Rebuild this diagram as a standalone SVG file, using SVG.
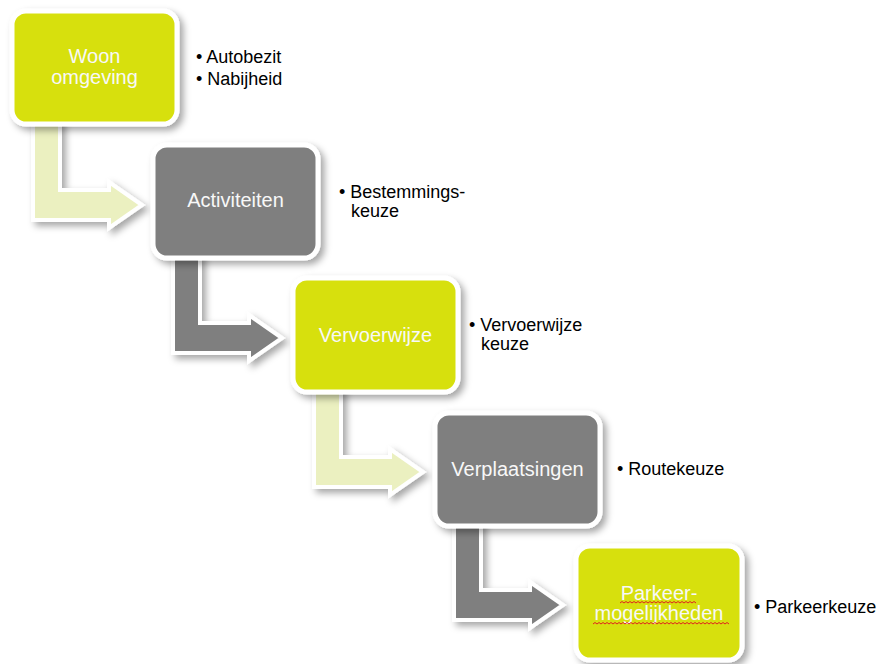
<svg xmlns="http://www.w3.org/2000/svg" xmlns:xlink="http://www.w3.org/1999/xlink" width="886" height="664" viewBox="0 0 886 664">
<defs>
<filter id="sh" x="-20%" y="-20%" width="150%" height="150%">
<feDropShadow dx="4" dy="4" stdDeviation="3.5" flood-color="#000" flood-opacity="0.35"/>
</filter>
<path id="arrow" d="M33,120 L60,120 L60,190 L109,190 L109,182 L142,205 L109,228 L109,220 L33,220 Z"/>
</defs>
<style>
.box{stroke:#fff;stroke-width:5;filter:url(#sh)}
.lime{fill:#D7E00F}
.grey{fill:#7F7F7F}
.arw{stroke:#fff;stroke-width:4;stroke-linejoin:miter;filter:url(#sh)}
.alight{fill:#EBF0C0}
.adark{fill:#7F7F7F}
.lbl{font-family:"Liberation Sans",Arial,sans-serif;font-size:20px;fill:#F8F8F8;text-anchor:middle}
.bul{font-family:"Liberation Sans",Arial,sans-serif;font-size:18px;fill:#000}
.sq{fill:none;stroke:#E02020;stroke-width:1}
</style>
<rect width="886" height="664" fill="#fff"/>
<g id="connectors">
<use xlink:href="#arrow" href="#arrow" class="arw alight"/>
<use xlink:href="#arrow" href="#arrow" class="arw adark" transform="translate(140,133)"/>
<use xlink:href="#arrow" href="#arrow" class="arw alight" transform="translate(281,267)"/>
<use xlink:href="#arrow" href="#arrow" class="arw adark" transform="translate(421,400)"/>
</g>
<g id="node1">
<rect class="box lime" x="12" y="11" width="165" height="113" rx="14"/>
<text class="lbl" x="94.5" y="63">Woon</text>
<text class="lbl" x="94.5" y="84">omgeving</text>
<text class="bul" x="196" y="63">• Autobezit</text>
<text class="bul" x="196" y="85">• Nabijheid</text>
</g>
<g id="node2">
<rect class="box grey" x="153" y="145" width="165" height="113" rx="14"/>
<text class="lbl" x="235.5" y="207">Activiteiten</text>
<text class="bul" x="339" y="198">• Bestemmings-</text>
<text class="bul" x="351" y="217">keuze</text>
</g>
<g id="node3">
<rect class="box lime" x="293" y="278" width="165" height="114" rx="14"/>
<text class="lbl" x="375.5" y="342">Vervoerwijze</text>
<text class="bul" x="469" y="331">• Vervoerwijze</text>
<text class="bul" x="481" y="350">keuze</text>
</g>
<g id="node4">
<rect class="box grey" x="435" y="413" width="165" height="113" rx="14"/>
<text class="lbl" x="517.5" y="476">Verplaatsingen</text>
<text class="bul" x="617" y="475">• Routekeuze</text>
</g>
<g id="node5">
<rect class="box lime" x="576" y="546" width="166" height="114" rx="14"/>
<text class="lbl" x="659" y="600">Parkeer-</text>
<text class="lbl" x="659" y="620">mogelijkheden</text>
<path class="sq" d="M620,603 l2,-1.5 l2,1.5 l2,-1.5 l2,1.5 l2,-1.5 l2,1.5 l2,-1.5 l2,1.5 l2,-1.5 l2,1.5 l2,-1.5 l2,1.5 l2,-1.5 l2,1.5 l2,-1.5 l2,1.5 l2,-1.5 l2,1.5 l2,-1.5 l2,1.5 l2,-1.5 l2,1.5 l2,-1.5 l2,1.5 l2,-1.5 l2,1.5 l2,-1.5 l2,1.5 l2,-1.5 l2,1.5 l2,-1.5 l2,1.5 l2,-1.5 l2,1.5 l2,-1.5 l2,1.5 l2,-1.5 l2,1.5"/>
<path class="sq" d="M593,624 l2,-1.5 l2,1.5 l2,-1.5 l2,1.5 l2,-1.5 l2,1.5 l2,-1.5 l2,1.5 l2,-1.5 l2,1.5 l2,-1.5 l2,1.5 l2,-1.5 l2,1.5 l2,-1.5 l2,1.5 l2,-1.5 l2,1.5 l2,-1.5 l2,1.5 l2,-1.5 l2,1.5 l2,-1.5 l2,1.5 l2,-1.5 l2,1.5 l2,-1.5 l2,1.5 l2,-1.5 l2,1.5 l2,-1.5 l2,1.5 l2,-1.5 l2,1.5 l2,-1.5 l2,1.5 l2,-1.5 l2,1.5 l2,-1.5 l2,1.5 l2,-1.5 l2,1.5 l2,-1.5 l2,1.5 l2,-1.5 l2,1.5 l2,-1.5 l2,1.5 l2,-1.5 l2,1.5 l2,-1.5 l2,1.5 l2,-1.5 l2,1.5 l2,-1.5 l2,1.5 l2,-1.5 l2,1.5 l2,-1.5 l2,1.5 l2,-1.5 l2,1.5 l2,-1.5 l2,1.5 l2,-1.5 l2,1.5 l2,-1.5 l2,1.5"/>
<text class="bul" x="754" y="613">• Parkeerkeuze</text>
</g>
</svg>
